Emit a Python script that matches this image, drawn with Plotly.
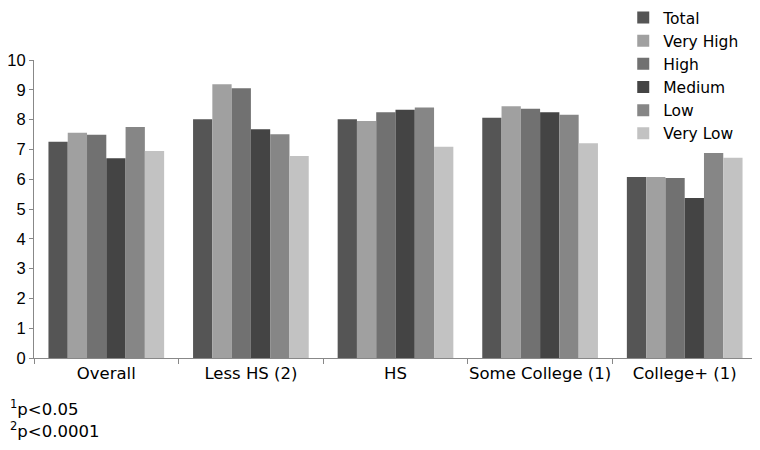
import plotly.graph_objects as go

# education groups on the x axis
categories = ["Overall", "Less HS (2)", "HS", "Some College (1)", "College+ (1)"]

# one list per series
total = [7.26, 8.01, 8.01, 8.06, 6.07]
very_high = [7.56, 9.19, 7.95, 8.45, 6.07]
high = [7.49, 9.05, 8.25, 8.36, 6.04]
medium = [6.70, 7.68, 8.33, 8.25, 5.37]
low = [7.75, 7.51, 8.41, 8.16, 6.88]
very_low = [6.95, 6.78, 7.09, 7.21, 6.72]

series_names = ["Total", "Very High", "High", "Medium", "Low", "Very Low"]
series_values = [total, very_high, high, medium, low, very_low]
colors = ["#555555", "#a0a0a0", "#717171", "#444444", "#868686", "#c2c2c2"]

footnotes = ["<sup>1</sup>p<0.05", "<sup>2</sup>p<0.0001"]

fig = go.Figure()
for name, vals, col in zip(series_names, series_values, colors):
    fig.add_trace(go.Bar(name=name, x=categories, y=vals, marker_color=col,
                         marker_line_width=0))

# page body adds 8px around the div, so the figure is a bit smaller than the window
fig.update_layout(
    width=752, height=442,
    barmode="group", bargap=0.2, bargroupgap=0,
    plot_bgcolor="white", paper_bgcolor="white",
    font=dict(family="DejaVu Sans, sans-serif", size=16.5, color="black"),
    margin=dict(l=26, r=3, t=52, b=92, autoexpand=False),
    legend=dict(x=0.815, y=1.198, xanchor="left", yanchor="top",
                font=dict(size=15.5), bgcolor="rgba(0,0,0,0)",
                tracegroupgap=0, itemwidth=30),
    showlegend=True,
)

fig.update_yaxes(range=[0, 10], dtick=1, showgrid=False, zeroline=False,
                 showline=True, linecolor="#888888", linewidth=1,
                 ticks="outside", ticklen=4, tickcolor="#888888",
                 tickfont=dict(family="Liberation Sans, Arial, sans-serif", size=16.5),
                 automargin=False)
fig.update_xaxes(showgrid=False, showline=True, linecolor="#888888", linewidth=1,
                 ticks="outside", ticklen=5, tickcolor="#888888",
                 tickson="boundaries", tickangle=0, automargin=False)

for i, txt in enumerate(footnotes):
    fig.add_annotation(text=txt, xref="paper", yref="paper",
                       x=-26 / 723, y=-(50 + 22 * i) / 298,
                       xanchor="left", yanchor="middle", showarrow=False,
                       font=dict(size=16.5))

fig.write_html("out.html")
